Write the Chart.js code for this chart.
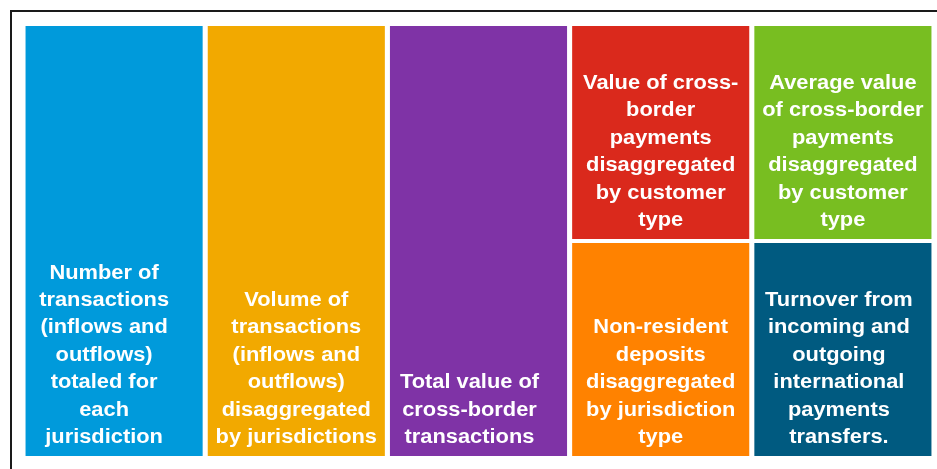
<!DOCTYPE html>
<html>
<head>
<meta charset="utf-8">
<script src="https://cdn.jsdelivr.net/npm/chart.js@4"></script>
<style>
  html, body { margin: 0; padding: 0; background: #fff; }
  #wrap { width: 937px; height: 469px; position: relative; }
</style>
</head>
<body>
<div id="wrap"><canvas id="myChart"></canvas></div>
<script>
// one column per data item, columns 4 and 5 are split in two
const categories = ["Number", "Volume", "Total value", "Value / deposits", "Average / turnover"];
const lowerValues = [100, 100, 100, 50, 50];
const upperValues = [0, 0, 0, 50, 50];

const lowerLabels = [
  ["Number of", "transactions", "(inflows and", "outflows)", "totaled for", "each", "jurisdiction"],
  ["Volume of", "transactions", "(inflows and", "outflows)", "disaggregated", "by jurisdictions"],
  ["Total value of", "cross-border", "transactions"],
  ["Non-resident", "deposits", "disaggregated", "by jurisdiction", "type"],
  ["Turnover from", "incoming and", "outgoing", "international", "payments", "transfers."]
];
const upperLabels = [
  null, null, null,
  ["Value of cross-", "border", "payments", "disaggregated", "by customer", "type"],
  ["Average value", "of cross-border", "payments", "disaggregated", "by customer", "type"]
];

const lowerColors = ["#009ADB", "#F2A900", "#7F33A6", "#FF8200", "#005A80"];
const upperColors = ["#009ADB", "#F2A900", "#7F33A6", "#DA291C", "#78BE21"];

// text in some boxes sits a bit left of centre
const lowerShift = [-10, 0, -9, 0, -4];
const upperShift = [0, 0, 0, 0, 0];

const BORDER = 2;

const boxText = {
  id: "boxText",
  afterDatasetsDraw(chart) {
    const ctx = chart.ctx;
    const sets = [[lowerLabels, lowerShift], [upperLabels, upperShift]];
    ctx.save();
    ctx.fillStyle = "#ffffff";
    ctx.font = "bold 19.5px 'Liberation Sans', Arial, sans-serif";
    ctx.textAlign = "center";
    ctx.textBaseline = "alphabetic";
    sets.forEach(([labels, shift], di) => {
      const meta = chart.getDatasetMeta(di);
      meta.data.forEach((bar, i) => {
        const lines = labels[i];
        if (!lines) return;
        const bottom = Math.max(bar.y, bar.base) - BORDER;
        lines.forEach((line, k) => {
          const y = bottom - 13 - (lines.length - 1 - k) * 27.4;
          ctx.save();
          ctx.translate(bar.x + shift[i], y);
          ctx.scale(1.12, 1);
          ctx.fillText(line, 0, 0);
          ctx.restore();
        });
      });
    });
    ctx.restore();
  }
};

const frame = {
  id: "frame",
  beforeDraw(chart) {
    const ctx = chart.ctx;
    ctx.save();
    ctx.strokeStyle = "#1a1a1a";
    ctx.lineWidth = 2;
    ctx.strokeRect(11, 11, 1000, 1000);
    ctx.restore();
  }
};

const ctx = document.getElementById("myChart");
new Chart(ctx, {
  type: "bar",
  data: {
    labels: categories,
    datasets: [
      {
        label: "lower",
        data: lowerValues,
        backgroundColor: lowerColors,
        borderColor: "#ffffff",
        borderWidth: BORDER,
        borderSkipped: false
      },
      {
        label: "upper",
        data: upperValues,
        backgroundColor: upperColors,
        borderColor: "#ffffff",
        borderWidth: BORDER,
        borderSkipped: false
      }
    ]
  },
  options: {
    responsive: true,
    maintainAspectRatio: false,
    animation: false,
    layout: { padding: { left: 23, top: 24, right: 3, bottom: 11 } },
    datasets: { bar: { barPercentage: 0.994, categoryPercentage: 1 } },
    scales: {
      x: { stacked: true, display: false },
      y: { stacked: true, display: false, min: 0, max: 100 }
    },
    plugins: {
      legend: { display: false },
      tooltip: { enabled: false }
    }
  },
  plugins: [frame, boxText]
});
</script>
</body>
</html>
